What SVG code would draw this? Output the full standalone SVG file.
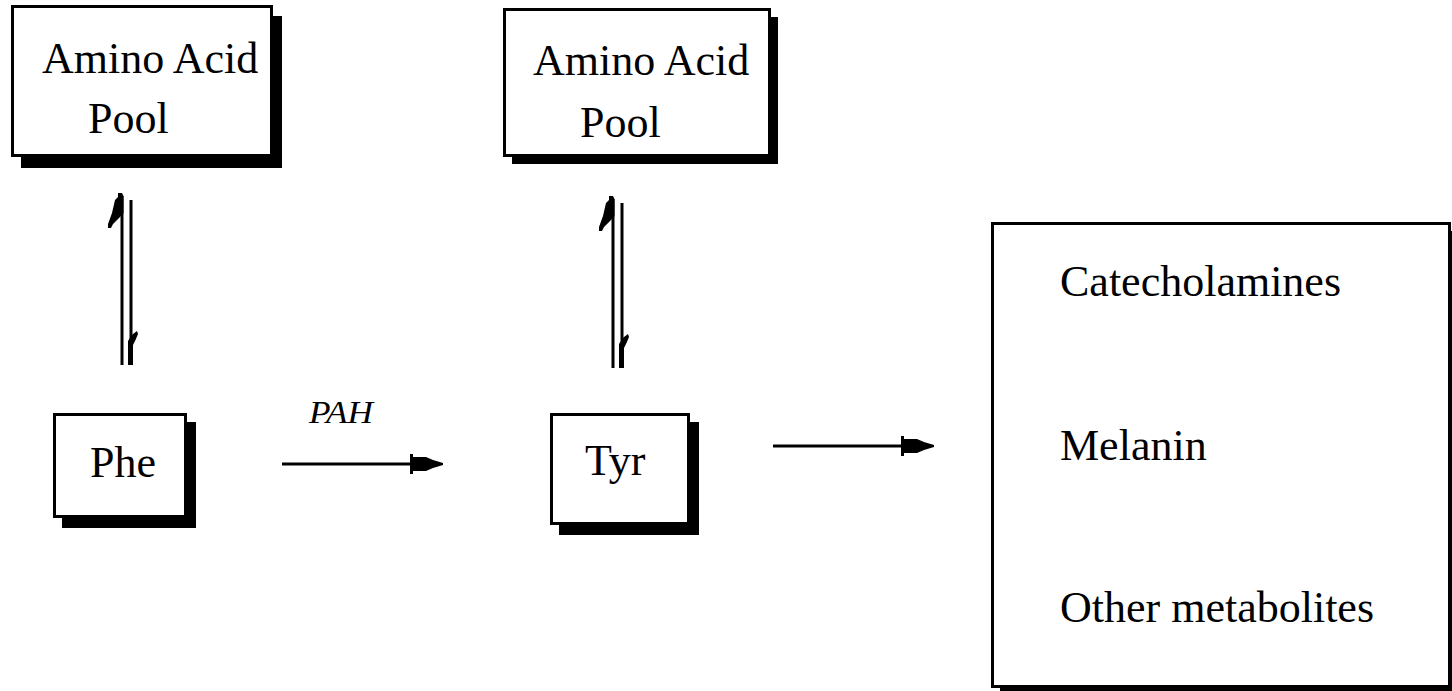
<svg xmlns="http://www.w3.org/2000/svg" width="1452" height="691" viewBox="0 0 1452 691">
  <style>
    .box { fill: #fff; stroke: #000; stroke-width: 3; }
    .shadow { fill: #000; }
    .label { font-family: "Liberation Serif", "Times New Roman", serif; font-size: 44px; fill: #000; }
    .enzyme { font-family: "Liberation Serif", "Times New Roman", serif; font-size: 31px; font-style: italic; fill: #000; }
    .line { stroke: #000; stroke-width: 3; fill: none; }
    .head { fill: #000; }
  </style>
  <defs>
    <!-- filled arrowhead, tip at the origin, pointing right -->
    <path id="arrowhead" d="M0,-1 L-10,-4 L-17,-7 L-30,-7 L-30,-10 L-33,-10 L-33,10 L-30,10 L-30,7 L-17,7 L-10,4 L0,1 Z"/>
    <!-- half-arrowhead for the upward branch of an equilibrium pair, barb on the left -->
    <path id="harpoonUp" d="M-4,0 L0,0 L1.5,3 L1.5,20 L-2,24 L-9,31 L-11,35 L-14,35 L-14,31 L-10,20 L-7,7 L-4,4 Z"/>
    <!-- half-arrowhead for the downward branch, barb on the right -->
    <path id="harpoonDown" d="M-2,0 L3,0 L3,-20 L5.5,-25 L8,-31 L7,-34 L3,-31 L0,-27 L-2,-24 Z"/>
  </defs>

  <rect width="1452" height="691" fill="#fff"/>

  <!-- reversible exchange with the amino acid pools, forward reaction and downstream products -->
  <g id="connectors">
    <g id="phe-pool-exchange">
      <line class="line" x1="122" y1="196" x2="122" y2="365"/>
      <line class="line" x1="131" y1="200" x2="131" y2="362"/>
      <use href="#harpoonUp" class="head" x="122" y="193"/>
      <use href="#harpoonDown" class="head" x="130" y="365"/>
    </g>
    <g id="tyr-pool-exchange" transform="translate(491,3)">
      <line class="line" x1="122" y1="196" x2="122" y2="365"/>
      <line class="line" x1="131" y1="200" x2="131" y2="362"/>
      <use href="#harpoonUp" class="head" x="122" y="193"/>
      <use href="#harpoonDown" class="head" x="130" y="365"/>
    </g>
    <g id="phe-to-tyr">
      <line class="line" x1="282" y1="464" x2="430" y2="464"/>
      <use href="#arrowhead" class="head" x="443" y="464"/>
      <text class="enzyme" x="309" y="423" textLength="64" lengthAdjust="spacingAndGlyphs">PAH</text>
    </g>
    <g id="tyr-to-products">
      <line class="line" x1="773" y1="446" x2="920" y2="446"/>
      <use href="#arrowhead" class="head" x="934" y="446"/>
    </g>
  </g>

  <g id="pool-phe">
    <rect class="shadow" x="21" y="16" width="261" height="152"/>
    <rect class="box" x="12.5" y="6.5" width="259" height="149"/>
    <text class="label" x="42" y="73">Amino Acid</text>
    <text class="label" x="88" y="133">Pool</text>
  </g>

  <g id="pool-tyr">
    <rect class="shadow" x="512" y="17" width="266" height="147"/>
    <rect class="box" x="504.5" y="9.5" width="265" height="146"/>
    <text class="label" x="533" y="75">Amino Acid</text>
    <text class="label" x="580" y="137">Pool</text>
  </g>

  <g id="phe">
    <rect class="shadow" x="62" y="422" width="134" height="106"/>
    <rect class="box" x="54.5" y="414.5" width="131" height="102"/>
    <text class="label" x="90" y="477">Phe</text>
  </g>

  <g id="tyr">
    <rect class="shadow" x="559" y="422" width="140" height="113"/>
    <rect class="box" x="551.5" y="414.5" width="137" height="109"/>
    <text class="label" x="585" y="475">Tyr</text>
  </g>

  <g id="products">
    <rect class="shadow" x="1000" y="231" width="460" height="460"/>
    <rect class="box" x="992.5" y="223.5" width="457" height="463"/>
    <text class="label" x="1060" y="296">Catecholamines</text>
    <text class="label" x="1060" y="460">Melanin</text>
    <text class="label" x="1060" y="622">Other metabolites</text>
  </g>
</svg>
